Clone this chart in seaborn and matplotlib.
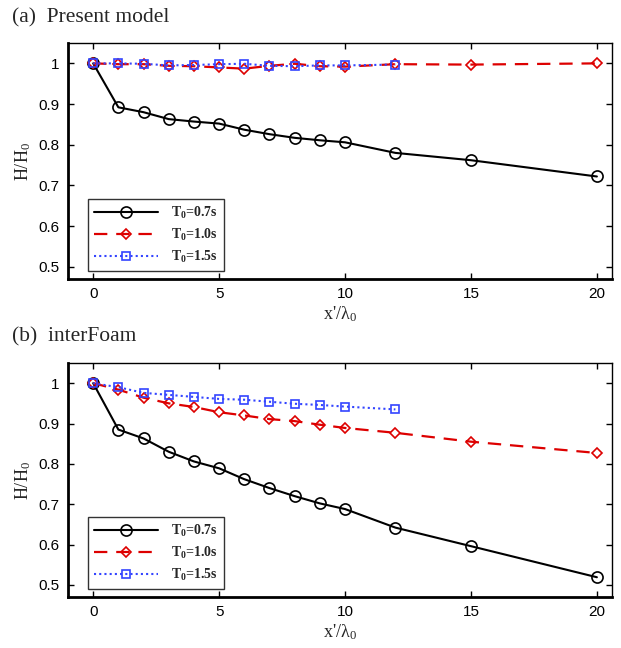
import numpy as np
import pandas as pd
import seaborn as sns
import matplotlib.pyplot as plt
from matplotlib.ticker import FuncFormatter

sns.set_theme(style="ticks")
plt.rcParams['font.family'] = ['Liberation Sans', 'DejaVu Sans']
plt.rcParams['mathtext.fontset'] = 'custom'
plt.rcParams['mathtext.rm'] = 'Liberation Serif'
plt.rcParams['mathtext.it'] = 'Liberation Serif:italic'
plt.rcParams['mathtext.bf'] = 'Liberation Serif:bold'

# distances x'/lambda0
x_long = [0, 1, 2, 3, 4, 5, 6, 7, 8, 9, 10, 12, 15, 20]
x_short = [0, 1, 2, 3, 4, 5, 6, 7, 8, 9, 10, 12]

# (a) present model
a_t07 = [1.0, 0.892, 0.880, 0.863, 0.857, 0.852, 0.837, 0.826, 0.817, 0.811, 0.806, 0.780, 0.762, 0.722]
a_t10 = [1.0, 0.998, 0.998, 0.994, 0.993, 0.990, 0.987, 0.994, 0.999, 0.993, 0.992, 0.998, 0.997, 1.0]
a_t15 = [1.0, 1.0, 0.999, 0.995, 0.996, 0.998, 0.999, 0.994, 0.993, 0.995, 0.995, 0.997]

# (b) interFoam
b_t07 = [1.0, 0.885, 0.863, 0.830, 0.806, 0.789, 0.762, 0.740, 0.720, 0.702, 0.688, 0.642, 0.596, 0.519]
b_t10 = [1.0, 0.984, 0.964, 0.950, 0.941, 0.928, 0.920, 0.911, 0.906, 0.897, 0.889, 0.877, 0.855, 0.827]
b_t15 = [1.0, 0.990, 0.976, 0.971, 0.966, 0.961, 0.959, 0.954, 0.949, 0.946, 0.942, 0.935]

labels = [r'$\mathbf{T_0}$=0.7s', r'$\mathbf{T_0}$=1.0s', r'$\mathbf{T_0}$=1.5s']
titles = ['(a)  Present model', '(b)  interFoam']

fig = plt.figure(figsize=(6.21, 6.48), dpi=100)
ax1 = fig.add_axes([0.1095, 0.5694, 0.876, 0.3642])
ax2 = fig.add_axes([0.1095, 0.0787, 0.876, 0.3611])

panels = [(ax1, a_t07, a_t10, a_t15), (ax2, b_t07, b_t10, b_t15)]

for ax, s07, s10, s15 in panels:
    sns.lineplot(x=x_long, y=s07, ax=ax, color='black', lw=1.5, marker='o',
                 markersize=8, markerfacecolor='none', markeredgecolor='black',
                 markeredgewidth=1.2, label=labels[0])
    sns.lineplot(x=x_long, y=s10, ax=ax, color='#dd0000', lw=1.6, marker='D',
                 markersize=5.5, markerfacecolor='none', markeredgecolor='#dd0000',
                 markeredgewidth=1.2, label=labels[1])
    ax.lines[-1].set_dashes([6, 4])
    sns.lineplot(x=x_short, y=s15, ax=ax, color='#3344ff', lw=1.5, marker='s',
                 markersize=5.5, markerfacecolor='none', markeredgecolor='#3344ff',
                 markeredgewidth=1.2, label=labels[2])
    ax.lines[-1].set_dashes([1, 1.5])

    ax.set_xlim(-1, 20.6)
    ax.set_ylim(0.47, 1.05)
    ax.set_xticks([0, 5, 10, 15, 20])
    ax.set_yticks([0.5, 0.6, 0.7, 0.8, 0.9, 1.0])
    ax.yaxis.set_major_formatter(FuncFormatter(lambda v, p: '%g' % round(v, 2)))
    ax.tick_params(direction='in', top=True, right=True, length=4, width=1,
                   labelsize=11, colors='black', pad=6)
    for side in ['top', 'right']:
        ax.spines[side].set_linewidth(1.0)
        ax.spines[side].set_visible(True)
    for side in ['left', 'bottom']:
        ax.spines[side].set_linewidth(2.0)
    for s in ax.spines.values():
        s.set_color('black')
    ax.set_ylabel(r'H/H$_0$', fontsize=13, family='Liberation Serif', labelpad=4)
    ax.set_xlabel(r"x'/λ$_0$", fontsize=13, family='Liberation Serif', labelpad=2)
    leg = ax.legend(loc='lower left', bbox_to_anchor=(0.037, 0.034), handlelength=4.6,
                    prop={'family': 'Liberation Serif', 'weight': 'bold', 'size': 10},
                    frameon=True, fancybox=False, edgecolor='black',
                    borderaxespad=0.0, labelspacing=0.42, handletextpad=0.9,
                    borderpad=0.45)
    leg.get_frame().set_linewidth(1.0)

fig.text(0.02, 0.972, titles[0], fontsize=15.5, family='Liberation Serif', va='center')
fig.text(0.02, 0.480, titles[1], fontsize=15.5, family='Liberation Serif', va='center')

fig.savefig('out.png', dpi=100)
